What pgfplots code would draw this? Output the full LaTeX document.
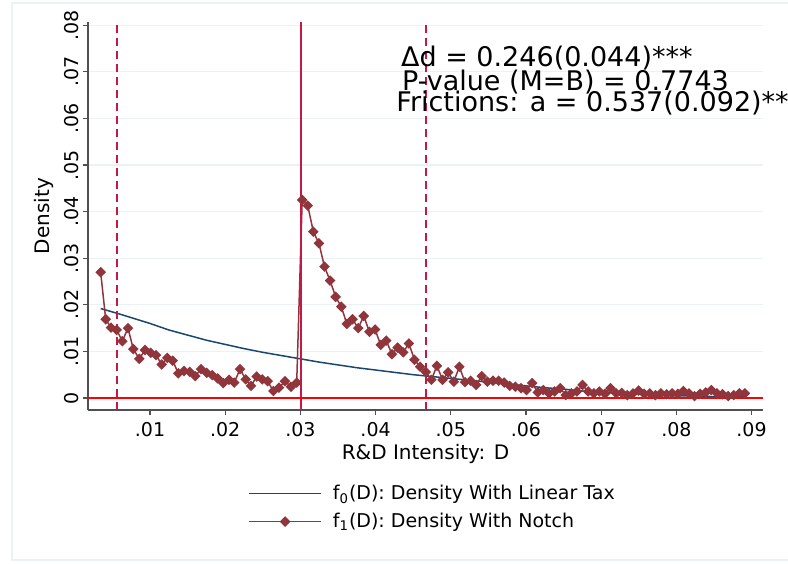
\documentclass[border=0pt]{standalone}
\usepackage{pgfplots}
\pgfplotsset{compat=1.18}
\usepackage{fontspec}
\setmainfont{DejaVu Sans}
\definecolor{stnavy}{RGB}{26,71,111}
\definecolor{stmaroon}{RGB}{144,53,59}
\definecolor{stline}{RGB}{196,24,70}
\definecolor{stgrid}{RGB}{234,242,243}
\definecolor{staxis}{RGB}{80,80,80}
\begin{document}
\begin{tikzpicture}
\path[use as bounding box] (-44pt,-76.5pt) rectangle (350pt,205pt);
\draw[stgrid, line width=0.6pt] (-38pt,203.5pt) rectangle (360pt,-75pt);
\begin{axis}[
  at={(0pt,0pt)}, anchor=south west,
  scale only axis, width=337.5pt, height=194pt,
  xmin=0.001755, xmax=0.09152, ymin=-0.00258, ymax=0.0807,
  axis x line*=bottom, axis y line*=left,
  axis line style={staxis, line width=0.6pt, -},
  tick align=outside, major tick length=2.5pt,
  tick style={staxis, line width=0.6pt},
  xtick={0.01,0.02,0.03,0.04,0.05,0.06,0.07,0.08,0.09},
  xticklabels={.01,.02,.03,.04,.05,.06,.07,.08,.09},
  ytick={0,0.01,0.02,0.03,0.04,0.05,0.06,0.07,0.08},
  yticklabels={0,.01,.02,.03,.04,.05,.06,.07,.08},
  scaled x ticks=false, scaled y ticks=false,
  ymajorgrids, grid style={stgrid, line width=0.6pt},
  tick label style={font=\fontsize{9.5}{11}\selectfont},
  yticklabel style={rotate=90, anchor=south, inner sep=1.8pt},
  xlabel={R\&D Intensity: D}, ylabel={Density},
  label style={font=\fontsize{9.5}{11}\selectfont},
  every axis x label/.style={at={(axis description cs:0.5,-0.1263)}, anchor=base},
  every axis y label/.style={at={(axis description cs:-0.0563,0.5)}, rotate=90, anchor=base},
  clip=false,
  legend style={draw=none, fill=none, at={(axis description cs:0.237,-0.182)}, anchor=north west,
    font=\fontsize{9.5}{11}\selectfont, row sep=1.2pt, inner sep=0pt, cells={anchor=west},
    /tikz/every odd column/.append style={column sep=3.5pt}},
  legend image code/.code={\draw[mark repeat=2,mark phase=2,#1] plot coordinates {(0pt,0pt)(18pt,0pt)(36pt,0pt)};},
]
\addplot[stnavy, line width=0.75pt] coordinates {
(0.00344,0.0192) (0.006,0.0180) (0.008,0.0170) (0.010,0.0160) (0.0125,0.0146)
(0.015,0.0135) (0.0175,0.0124) (0.020,0.0115) (0.0225,0.0106) (0.025,0.0098)
(0.0275,0.0091) (0.030,0.0084) (0.0325,0.0077) (0.035,0.0071) (0.0375,0.0065)
(0.040,0.0060) (0.0425,0.0055) (0.045,0.0050) (0.0475,0.0046) (0.050,0.0042)
(0.0525,0.0038) (0.055,0.0034) (0.0575,0.0030) (0.060,0.0026) (0.0625,0.0022)
(0.065,0.0019) (0.0675,0.0015) (0.070,0.0012) (0.0725,0.0010) (0.075,0.0008)
(0.0775,0.0006) (0.080,0.0005) (0.0825,0.0004) (0.085,0.0003) (0.0875,0.0003)
(0.0891,0.0002)};
\addlegendentry{f\textsubscript{0}(D): Density With Linear Tax}
\addplot[stmaroon, line width=0.75pt, mark=square*, mark size=1.5pt, mark options={rotate=45, stmaroon}] coordinates {
(0.00344,0.0270) (0.00411,0.0169) (0.00481,0.0151) (0.00557,0.0146) (0.00632,0.0122)
(0.00707,0.0150) (0.00778,0.0105) (0.00858,0.0084) (0.00934,0.0103) (0.01009,0.0097)
(0.01080,0.0092) (0.01156,0.0072) (0.01230,0.0086) (0.01302,0.0080) (0.01376,0.0053)
(0.01452,0.0058) (0.01528,0.0056) (0.01602,0.0047) (0.01678,0.0062) (0.01754,0.0054)
(0.01828,0.0049) (0.01900,0.0042) (0.01975,0.0032) (0.02051,0.0039) (0.02121,0.0033)
(0.02197,0.0062) (0.02273,0.0040) (0.02343,0.0026) (0.02419,0.0046) (0.02493,0.0040)
(0.02565,0.0036) (0.02640,0.0015) (0.02715,0.0022) (0.02795,0.0036) (0.02875,0.0024)
(0.02951,0.0033) (0.03024,0.0425) (0.03098,0.0413) (0.03172,0.0357) (0.03247,0.0332)
(0.03320,0.0282) (0.03395,0.0252) (0.03469,0.0217) (0.03544,0.0196) (0.03618,0.0159)
(0.03693,0.0169) (0.03769,0.0150) (0.03843,0.0176) (0.03918,0.0142) (0.03993,0.0147)
(0.04068,0.0114) (0.04142,0.0123) (0.04218,0.0094) (0.04293,0.0108) (0.04368,0.0098)
(0.04443,0.0117) (0.04517,0.0082) (0.04592,0.0067) (0.04668,0.0056) (0.04742,0.0039)
(0.04816,0.0069) (0.04891,0.0039) (0.04965,0.0055) (0.05040,0.0035) (0.05114,0.0067)
(0.05189,0.0034) (0.05263,0.0037) (0.05338,0.0028) (0.05412,0.0047) (0.05487,0.0035)
(0.05561,0.0037) (0.05636,0.0037) (0.05710,0.0033) (0.05785,0.0026) (0.05859,0.0024)
(0.05934,0.0021) (0.06008,0.0017) (0.06082,0.0032) (0.06157,0.0012) (0.06231,0.0017)
(0.06306,0.0010) (0.06380,0.0014) (0.06455,0.0021) (0.06529,0.0006) (0.06604,0.0010)
(0.06678,0.0014) (0.06753,0.0028) (0.06827,0.0014) (0.06902,0.0010) (0.06976,0.0014)
(0.07051,0.0009) (0.07125,0.0021) (0.07199,0.0010) (0.07274,0.0011) (0.07348,0.0006)
(0.07423,0.0010) (0.07497,0.0016) (0.07572,0.0009) (0.07646,0.0010) (0.07721,0.0006)
(0.07795,0.0010) (0.07870,0.0008) (0.07944,0.0010) (0.08019,0.0009) (0.08093,0.0015)
(0.08168,0.0010) (0.08242,0.0004) (0.08316,0.0009) (0.08391,0.0012) (0.08465,0.0017)
(0.08540,0.0010) (0.08614,0.0008) (0.08689,0.0004) (0.08763,0.0006) (0.08838,0.0010)
(0.08912,0.0010)};
\addlegendentry{f\textsubscript{1}(D): Density With Notch}
\addplot[stline, line width=0.75pt, dash pattern=on 4pt off 2.5pt, forget plot] coordinates {(0.00561,-0.00258) (0.00561,0.0807)};
\addplot[stline, line width=0.75pt, dash pattern=on 4pt off 2.5pt, forget plot] coordinates {(0.04670,-0.00258) (0.04670,0.0807)};
\addplot[stline, line width=0.75pt, forget plot] coordinates {(0.03010,-0.00258) (0.03010,0.0807)};
\addplot[red, line width=0.75pt, forget plot] coordinates {(0.001755,0) (0.09152,0)};
\node[anchor=base west, inner sep=0pt, font=\fontsize{13.5}{16}\selectfont] at (axis cs:0.04334,0.0711) {Δd = 0.246(0.044)***};
\node[anchor=base west, inner sep=0pt, font=\fontsize{13.5}{16}\selectfont] at (axis cs:0.04347,0.0661) {P-value (M=B) = 0.7743};
\node[anchor=base west, inner sep=0pt, font=\fontsize{13.5}{16}\selectfont] at (axis cs:0.04272,0.0614) {Frictions: a = 0.537(0.092)**};
\end{axis}
\end{tikzpicture}
\end{document}
